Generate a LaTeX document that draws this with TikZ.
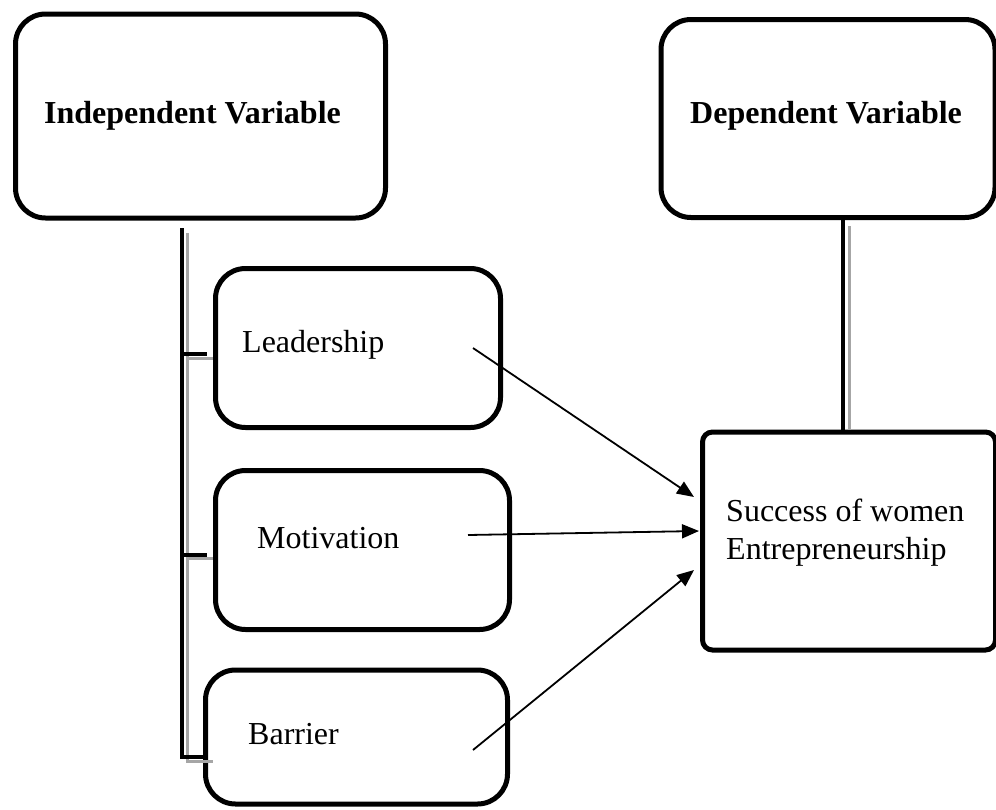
\documentclass[tikz,border=0pt]{standalone}
\usepackage{fontspec}
\setmainfont{Liberation Serif}
\usetikzlibrary{arrows.meta}
\begin{document}
\begin{tikzpicture}[x=1pt,y=-1pt,
  bigbox/.style={draw, line width=5pt, rounded corners=30pt, inner sep=0pt},
  smallbox/.style={draw, line width=5pt, rounded corners=10pt, inner sep=0pt},
  lbl/.style={inner sep=0pt, anchor=base west, font=\fontsize{32}{38}\selectfont},
  hdr/.style={lbl, font=\fontsize{32}{38}\selectfont\bfseries},
  trunk/.style={line width=4pt, black},
  shade/.style={line width=3pt, black!35},
  link/.style={line width=1.8pt, -{Triangle[length=17pt,width=14pt]}}]
\useasboundingbox (0,0) rectangle (996,809);

% boxes
\node[bigbox, minimum width=370pt, minimum height=204pt] (indep) at (200.5,116) {};
\node[bigbox, minimum width=334pt, minimum height=198pt] (dep) at (828,118.5) {};
\node[bigbox, minimum width=285pt, minimum height=159pt] (lead) at (358,348) {};
\node[bigbox, minimum width=294pt, minimum height=159pt] (motiv) at (362.5,550) {};
\node[bigbox, minimum width=302pt, minimum height=134pt] (barr) at (356.5,737) {};
\node[smallbox, minimum width=293pt, minimum height=218pt] (succ) at (849,541) {};

% texts
\node[hdr] (tindep) at (44,123) {Independent Variable};
\node[hdr] (tdep) at (690,123) {Dependent Variable};
\node[lbl] (tlead) at (242,352) {Leadership};
\node[lbl] (tmotiv) at (257,548) {Motivation};
\node[lbl] (tbarr) at (248,744) {Barrier};
\node[lbl, align=left, anchor=north west] (tsucc) at (726,499)
  {Success of women\\Entrepreneurship};

% bracket joining the independent variables
\coordinate (ttop) at (181.5,228);
\coordinate (tbot) at (181.5,757);
\coordinate (stop) at (187,233);
\coordinate (sbot) at (187,761);
\coordinate (dtop) at (843,220);
\coordinate (dshd) at (849,226);
\draw[shade] (stop) -- (sbot) -- (213,761);
\draw[shade] (187,358) -- (lead.west |- 0,358);
\draw[shade] (187,558.5) -- (motiv.west |- 0,558.5);
\draw[trunk] (ttop) -- (tbot) -- (207,757);
\draw[trunk] (181.5,354) -- (207,354);
\draw[trunk] (181.5,555) -- (207,555);

% line down to the dependent variable
\draw[shade] (dshd) -- (dshd |- succ.north);
\draw[trunk] (dtop) -- (dtop |- succ.north);

% influences
\coordinate (la) at (473,348);
\coordinate (ma) at (468,535);
\coordinate (ba) at (473,750);
\coordinate (lb) at (694,497);
\coordinate (mb) at (699,531);
\coordinate (bb) at (694,570);
\draw[link] (la) -- (lb);
\draw[link] (ma) -- (mb);
\draw[link] (ba) -- (bb);
\end{tikzpicture}
\end{document}
